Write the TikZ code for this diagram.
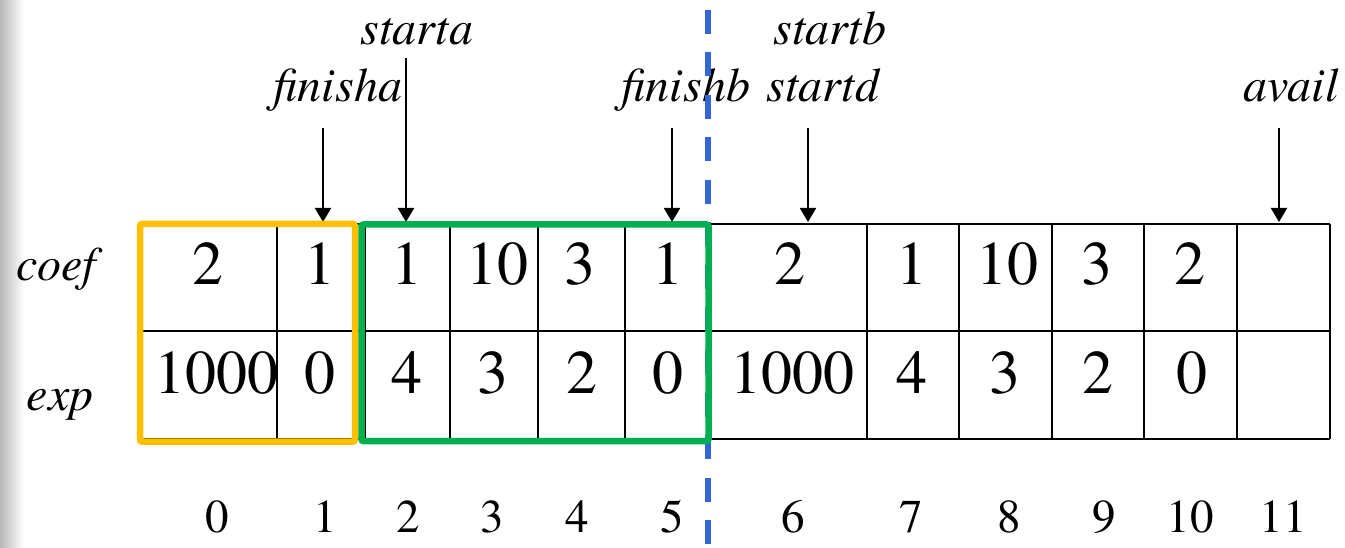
\documentclass[tikz,border=0pt]{standalone}
\usepackage{fontspec}
\setmainfont{TeX Gyre Termes}
\newfontfamily\tms{TeX Gyre Termes}
\usetikzlibrary{arrows.meta}
\definecolor{gold}{RGB}{255,192,0}
\definecolor{grn}{RGB}{0,176,80}
\definecolor{dblue}{RGB}{52,103,214}
\tikzset{
 gridline/.style={line width=1.8pt, black},
 val/.style={anchor=base, inner sep=0pt, font=\tms\fontsize{62}{62}\selectfont},
 idx/.style={anchor=base, inner sep=0pt, font=\tms\fontsize{47}{47}\selectfont},
 lbl/.style={anchor=base, inner sep=0pt, font=\tms\itshape\fontsize{48}{48}\selectfont},
 ptr/.style={line width=2pt, -{Triangle[width=16pt,length=14pt]}},
 framebox/.style={line width=6.5pt, rounded corners=2pt},
 divider/.style={line width=6pt, dblue, dash pattern=on 24pt off 18.5pt},
}
\begin{document}
\begin{tikzpicture}[x=1pt,y=-1pt]
\useasboundingbox (0,0) rectangle (1345,548);
\fill[white] (0,0) rectangle (1345,548);
\shade[left color=black!28,right color=white] (0,0) rectangle (24,548);

% grid
\foreach \x in {142,277,353,365,450,538,625,708,867,959,1052,1144,1237,1330}
  \draw[gridline] (\x,224) -- (\x,439);
\foreach \y in {224,331,439}
  \draw[gridline] (142,\y) -- (1330,\y);

% values
\foreach \x/\v in {208/2,320/1,407/1,497/10,580/3,668/1,790/2,912/1,1007/10,1097/3,1190/2}
  \node[val] at (\x,285) {\v};
\foreach \x/\v in {216/1000,320/0,407/4,493/3,582/2,668/0,792/1000,912/4,1005/3,1098/2,1192/0}
  \node[val] at (\x,393) {\v};

% indices
\foreach \x/\v in {217/0,325/1,408/2,492/3,577/4,672/5,793/6,911/7,1009/8,1104/9,1190/10,1283/11}
  \node[idx] at (\x,532) {\v};

% row labels
\node[lbl] (coef) at (56,280) {coef};
\node[lbl] (exp) at (60,410) {exp};

% pointer labels
\node[lbl] (starta) at (417,45) {starta};
\node[lbl] (finisha) at (338,102) {finisha};
\node[lbl] (finishb) at (686,102) {finishb};
\node[lbl] (startb) at (830,45) {startb};
\node[lbl] (startd) at (823,102) {startd};
\node[lbl] (avail) at (1291,102) {avail};

% pointer arrows
\coordinate (fa0) at (323,128); \coordinate (fa1) at (323,222);
\coordinate (sa0) at (406,58);  \coordinate (sa1) at (406,222);
\coordinate (fb0) at (672,128); \coordinate (fb1) at (672,222);
\coordinate (sb0) at (808,128); \coordinate (sb1) at (808,222);
\coordinate (av0) at (1279,128); \coordinate (av1) at (1279,222);
\draw[ptr] (fa0) -- (fa1);
\draw[ptr] (sa0) -- (sa1);
\draw[ptr] (fb0) -- (fb1);
\draw[ptr] (sb0) -- (sb1);
\draw[ptr] (av0) -- (av1);

% divider
\coordinate (dtop) at (708,10);
\coordinate (dbot) at (708,560);
\draw[divider] (dtop) -- (dbot);

% frames
\draw[framebox, gold] (140,224) rectangle (355,441.5);
\draw[framebox, grn] (361.5,224.5) rectangle (708.5,441);
\end{tikzpicture}
\end{document}
